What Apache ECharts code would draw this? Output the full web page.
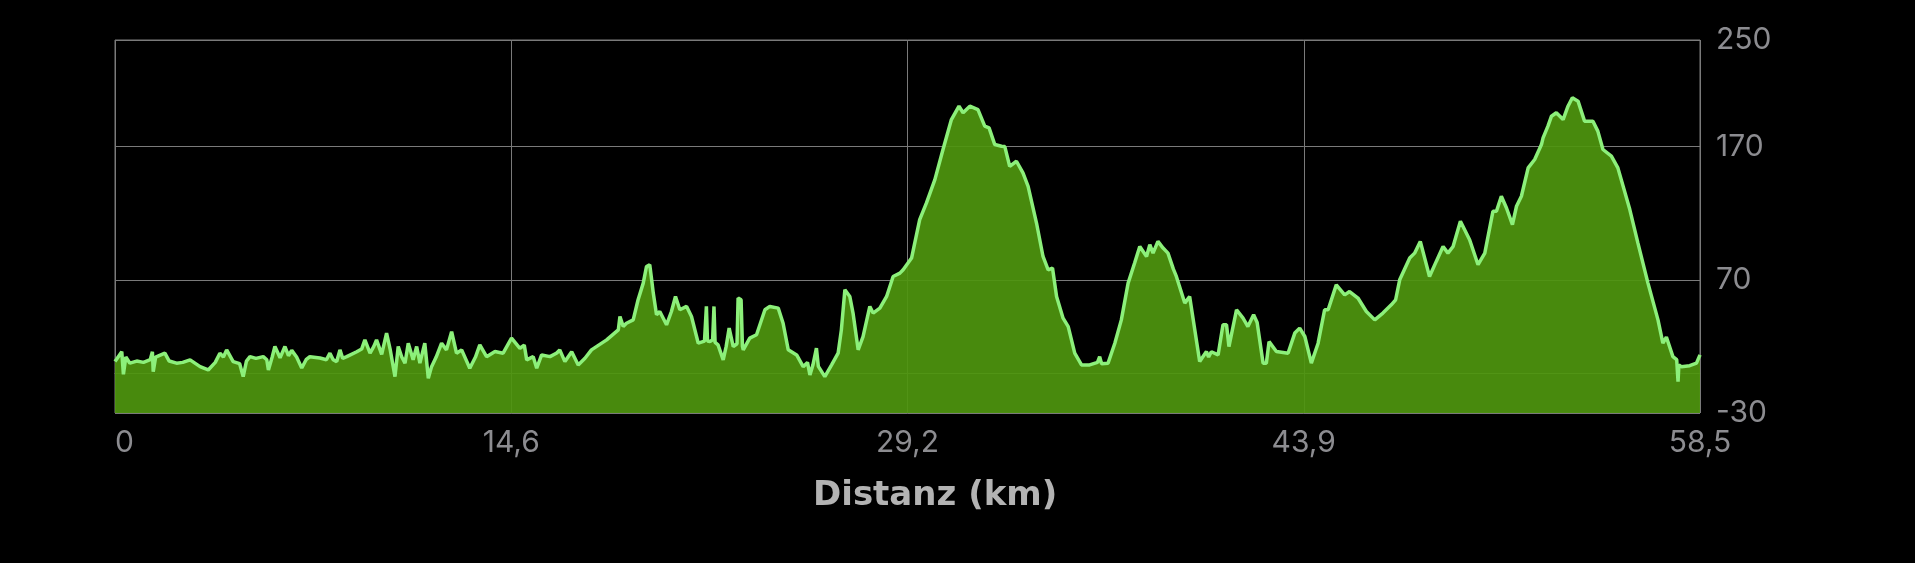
<!DOCTYPE html>
<html>
<head>
<meta charset="utf-8">
<script src="https://cdn.jsdelivr.net/npm/echarts@6/dist/echarts.min.js"></script>
<style>
  html, body { margin: 0; padding: 0; background: #000; }
  #chart { width: 1915px; height: 563px; }
</style>
</head>
<body>
<div id="chart"></div>
<script>
// distance along the route (km)
const distKm = [
  0, 0.25, 0.31, 0.40, 0.55, 0.8, 1.05, 1.3, 1.38, 1.41, 1.5, 1.84, 2.0, 2.27, 2.5, 2.77,
  3.14, 3.44, 3.7, 3.87, 4.0, 4.12, 4.36, 4.6, 4.73, 4.85, 4.98, 5.2, 5.47, 5.6, 5.66, 5.8,
  5.90, 6.09, 6.27, 6.40, 6.52, 6.7, 6.89, 7.05, 7.19, 7.56, 7.8, 7.93, 8.05, 8.18, 8.30, 8.40,
  8.55, 8.92, 9.10, 9.22, 9.41, 9.55, 9.65, 9.84, 10.02, 10.15, 10.33, 10.45, 10.58, 10.70,
  10.82, 11.00, 11.13, 11.25, 11.43, 11.56, 11.68, 11.85, 12.05, 12.23, 12.42, 12.60, 12.79,
  13.09, 13.30, 13.46, 13.71, 14.02, 14.32, 14.63, 14.94, 15.10, 15.19, 15.43, 15.56, 15.74,
  16.05, 16.30, 16.41, 16.60, 16.85, 17.09, 17.34, 17.58, 18.14, 18.57, 18.63, 18.75, 18.87,
  19.12, 19.30, 19.49, 19.61, 19.73, 19.80, 19.86, 19.98, 20.10, 20.35, 20.53, 20.68, 20.84,
  21.09, 21.27, 21.52, 21.75, 21.82, 21.86, 21.95, 22.05, 22.10, 22.14, 22.25, 22.44, 22.55,
  22.66, 22.81, 22.95, 22.99, 23.10, 23.15, 23.18, 23.42, 23.67, 23.98, 24.16, 24.47, 24.65,
  24.84, 25.15, 25.39, 25.55, 25.64, 25.75, 25.88, 25.95, 26.01, 26.19, 26.44, 26.68, 26.80,
  26.93, 27.11, 27.23, 27.42, 27.60, 27.85, 27.97, 28.22, 28.47, 28.71, 28.96, 29.08, 29.39,
  29.69, 29.94, 30.25, 30.55, 30.86, 31.14, 31.29, 31.54, 31.84, 32.09, 32.25, 32.46, 32.71,
  32.83, 33.01, 33.26, 33.50, 33.69, 34.00, 34.24, 34.43, 34.59, 34.74, 34.98, 35.17, 35.41,
  35.66, 35.96, 36.25, 36.33, 36.40, 36.64, 36.89, 37.13, 37.38, 37.62, 37.81, 38.06, 38.18,
  38.30, 38.48, 38.67, 38.85, 39.05, 39.16, 39.47, 39.65, 40.02, 40.27, 40.35, 40.45, 40.70,
  40.88, 41.01, 41.10, 41.38, 41.62, 41.80, 42.01, 42.14, 42.36, 42.48, 42.58, 42.85, 43.28,
  43.53, 43.71, 43.90, 44.14, 44.39, 44.63, 44.76, 45.06, 45.37, 45.55, 45.86, 46.17, 46.48,
  46.78, 47.09, 47.25, 47.40, 47.77, 47.95, 48.16, 48.50, 48.75, 49.00, 49.18, 49.37, 49.64,
  49.98, 50.29, 50.54, 50.84, 50.97, 51.15, 51.34, 51.56, 51.71, 51.89, 52.14, 52.38, 52.63,
  52.69, 52.87, 53.00, 53.18, 53.30, 53.43, 53.61, 53.77, 53.98, 54.22, 54.53, 54.71, 54.90,
  55.21, 55.45, 55.89, 56.19, 56.56, 56.93, 57.11, 57.24, 57.48, 57.62, 57.67, 57.70, 57.79,
  58.10, 58.35, 58.48
];
// elevation (m)
const elevM = [
  8.6, 16, -1, 12, 7.4, 9, 8, 10, 16, 1, 12, 15, 9, 7.4, 8, 9.9,
  4.8, 2.3, 8, 14.9, 12, 17.4, 8.6, 7, -2.7, 9, 12.3, 11, 12.3, 10, 2.3, 12,
  19.9, 11.4, 19.9, 13, 17, 12, 3.8, 10, 12.3, 11.3, 10, 14.9, 10, 8.6, 17.4, 11,
  12.3, 16, 18, 24.9, 15, 20, 24.9, 14, 30, 18, -2.7, 19.9, 12, 7.4,
  22.4, 9.9, 19.9, 7.4, 22.4, -3.9, 4.8, 12, 22.4, 17.4, 31.1, 14.9, 17.4,
  3.6, 12, 21.1, 12.3, 16.1, 14.9, 26.2, 18.6, 21, 9.9, 12.3, 3.6, 13.6,
  12.3, 15, 17.4, 8.6, 16, 6.1, 11.1, 17.4, 24.9, 32.4, 42.4, 35, 37.4,
  39.9, 55, 67.5, 80, 81.3, 70, 60, 43.7, 46.2, 36.2, 46.2, 57.5, 47.5,
  50, 42.4, 22.4, 24, 50, 24, 23.6, 25, 50, 23, 21.1, 9.9, 20,
  33.7, 19.9, 22, 56.3, 55, 20, 17.4, 26.2, 28.7, 47.5, 50, 48.7, 37.4,
  17.4, 13.6, 4.8, 8, -1.4, 6, 18.7, 5, 3.6, -2.7, 6.1, 14.9, 32.4,
  62.5, 57.5, 45, 17.4, 27.4, 50, 45, 48.7, 57.5, 72.5, 75, 77.5, 86.3,
  115.1, 127.7, 145.2, 167.8, 190.3, 200.3, 195.4, 200.3, 197.8, 185.3, 184, 171.5, 170.3,
  170, 155.2, 159, 150.2, 140.2, 112.6, 87.5, 77.5, 78.8, 57.5, 41.2, 34.9, 14.9,
  6.1, 6.1, 8, 12.3, 7, 7.4, 22.4, 39.9, 67.5, 82.6, 95, 87.5, 96.3,
  90, 98.8, 93.8, 90, 78, 72.5, 52.5, 57.5, 8.6, 16.1, 12, 16, 13.6,
  36.2, 36.2, 19.9, 47.5, 41.2, 34.9, 43.7, 38, 7.4, 7.4, 23.6, 16.1, 14.9,
  30, 33.7, 27.4, 7.4, 22.4, 47.5, 47.5, 66.2, 58.7, 61.2, 56.3, 46.2, 39.9,
  45, 51.2, 55, 70, 86.3, 90, 98.8, 72.5, 83.8, 95, 90, 95, 113.9,
  100.1, 81.3, 90, 121.4, 121.4, 132.7, 123.9, 111.4, 125.2, 132.7, 154, 160.3, 171.5,
  176.5, 185.3, 192.8, 195.4, 193, 190.3, 200.3, 206.6, 204.1, 189.1, 189, 181.6, 167.8,
  162.8, 154, 122.7, 97.5, 67.5, 39.9, 22.4, 27, 12.3, 10, -6.5, 6, 4.8,
  5.5, 7.4, 13.6
];
const xMax = 58.48;
const xStep = 14.62;
const yTicks = [-30, 70, 170, 250];

const chart = echarts.init(document.getElementById('chart'));
const labelColor = '#8c8c90';
const gridColor = '#7a7a7a';

const option = {
  backgroundColor: '#000',
  animation: false,
  title: {
    text: 'Distanz (km)',
    left: 808,
    top: 474,
    textStyle: {
      color: '#b3b3b3',
      fontFamily: 'DejaVu Sans',
      fontWeight: 'bold',
      fontSize: 34
    }
  },
  grid: {
    left: 115,
    right: 215,
    top: 40,
    bottom: 150,
    show: true,
    borderColor: gridColor,
    borderWidth: 1
  },
  xAxis: {
    type: 'value',
    min: 0,
    max: xMax,
    interval: xStep,
    axisLine: { show: true, lineStyle: { color: '#7d9470' } },
    axisTick: { show: false },
    splitLine: { show: true, lineStyle: { color: gridColor, width: 1 } },
    axisLabel: {
      color: labelColor,
      fontFamily: 'Inter',
      fontSize: 30,
      margin: 15,
      alignMinLabel: 'left',
      formatter: v => v === 0 ? '0' : v.toFixed(1).replace('.', ',')
    }
  },
  yAxis: {
    type: 'value',
    position: 'right',
    min: -30,
    max: 250,
    axisLine: { show: false },
    axisTick: { show: false, customValues: yTicks },
    splitLine: { show: true, lineStyle: { color: gridColor, width: 1 } },
    axisLabel: {
      customValues: yTicks,
      color: labelColor,
      fontFamily: 'Inter',
      fontSize: 30,
      margin: 16
    }
  },
  series: [
    {
      type: 'line',
      data: distKm.map((d, i) => [d, elevM[i]]),
      showSymbol: false,
      lineStyle: { color: '#8cf07a', width: 3.5 },
      areaStyle: { color: '#4e950e', opacity: 0.93, origin: 'start' },
      z: 1
    }
  ]
};
chart.setOption(option);
</script>
</body>
</html>
